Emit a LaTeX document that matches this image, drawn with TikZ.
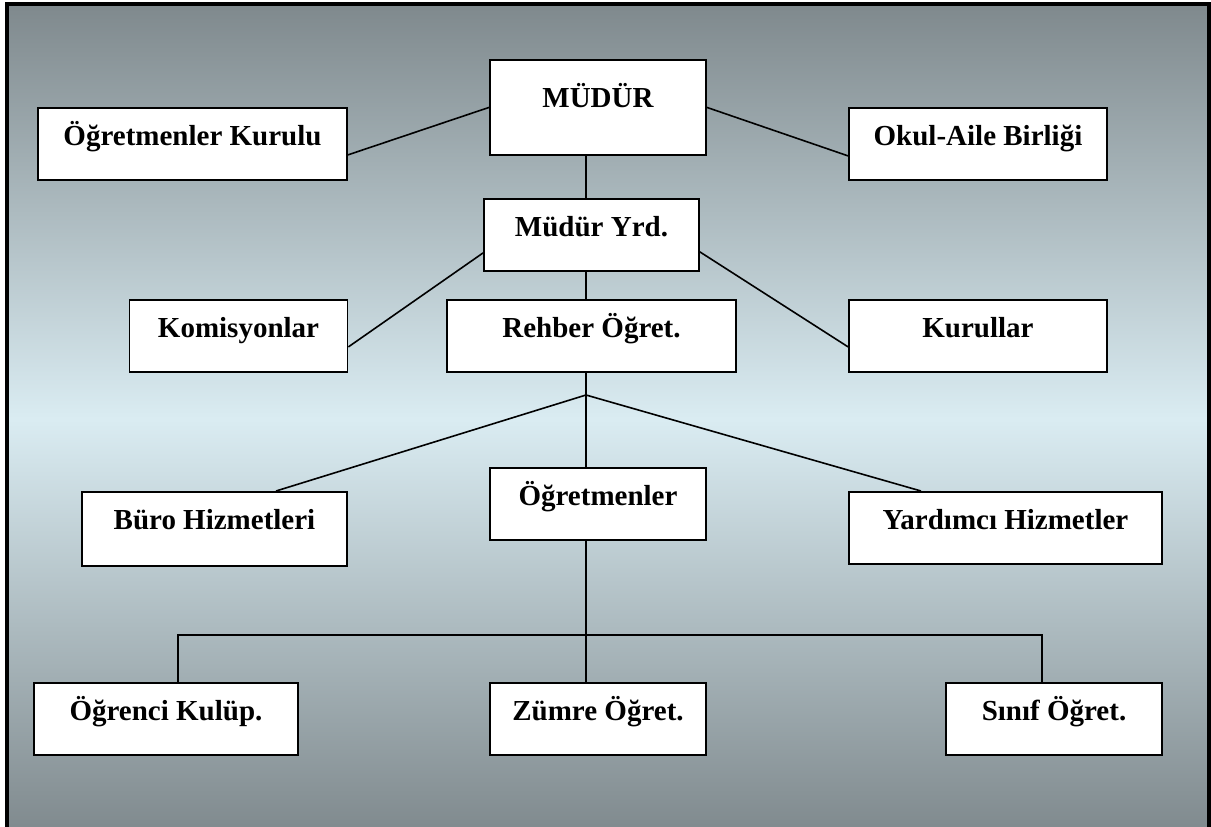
\documentclass[tikz,border=0pt]{standalone}
\usepackage{fontspec}
\setmainfont{Liberation Serif}
\usetikzlibrary{positioning}
\definecolor{gri}{RGB}{127,137,141}
\definecolor{acik}{RGB}{218,236,242}
\tikzstyle{kutu} = [rectangle, draw=black, fill=white, line width=1.8pt, inner sep=0pt, text height=38pt, text depth=34pt, anchor=north, font=\fontsize{29}{29}\selectfont\bfseries]
\tikzstyle{hat} = [line width=1.6pt]

\begin{document}
\begin{tikzpicture}[x=1pt,y=-1pt]
        \useasboundingbox (0,0) rectangle (1211,827);
        \draw [line width=4pt, top color=gri, bottom color=gri, middle color=acik] (7,4) rectangle (1209,834);
        \node (mudur) [kutu, minimum width=216pt, text height=48pt, text depth=47pt] at (598,59) {MÜDÜR};
        \node (ogrkurul) [kutu, minimum width=309pt] at (192.5,107) {Öğretmenler Kurulu};
        \node (okulaile) [kutu, minimum width=258pt] at (978,107) {Okul-Aile Birliği};
        \node (yrd) [kutu, minimum width=215pt] at (591.5,198) {Müdür Yrd.};
        \node (komisyon) [kutu, minimum width=218pt] at (238.5,299) {Komisyonlar};
        \node (rehber) [kutu, minimum width=289pt] at (591.5,299) {Rehber Öğret.};
        \node (kurullar) [kutu, minimum width=258pt] at (978,299) {Kurullar};
        \node (buro) [kutu, minimum width=265pt, text depth=36pt] at (214.5,491) {Büro Hizmetleri};
        \node (ogretmen) [kutu, minimum width=216pt] at (598,467) {Öğretmenler};
        \node (yardimci) [kutu, minimum width=313pt] at (1005.5,491) {Yardımcı Hizmetler};
        \node (kulup) [kutu, minimum width=264pt] at (166,682) {Öğrenci Kulüp.};
        \node (zumre) [kutu, minimum width=216pt] at (598,682) {Zümre Öğret.};
        \node (sinif) [kutu, minimum width=216pt] at (1054,682) {Sınıf Öğret.};
        \coordinate (dal) at (586,395);
        \coordinate (cubuk) at (586,635);
        \draw [hat] ([yshift=-11pt]ogrkurul.east) -- (mudur.west);
        \draw [hat] (mudur.east) -- ([yshift=-12pt]okulaile.west);
        \draw [hat] ([yshift=-11pt]komisyon.east) -- ([yshift=-18pt]yrd.west);
        \draw [hat] ([yshift=-17pt]yrd.east) -- ([yshift=-11pt]kurullar.west);
        \draw [hat] (mudur.south -| dal) -- (yrd.north -| dal);
        \draw [hat] (yrd.south -| dal) -- (rehber.north -| dal);
        \draw [hat] (rehber.south -| dal) -- (dal);
        \draw [hat] (dal) -- ([xshift=61.5pt]buro.north);
        \draw [hat] (dal) -- ([xshift=-84.5pt]yardimci.north);
        \draw [hat] (dal) -- (ogretmen.north -| dal);
        \draw [hat] (ogretmen.south -| dal) -- (zumre.north -| dal);
        \draw [hat] ([xshift=12pt]kulup.north) |- (cubuk) -| ([xshift=-12pt]sinif.north);

    \end{tikzpicture}
\end{document}
